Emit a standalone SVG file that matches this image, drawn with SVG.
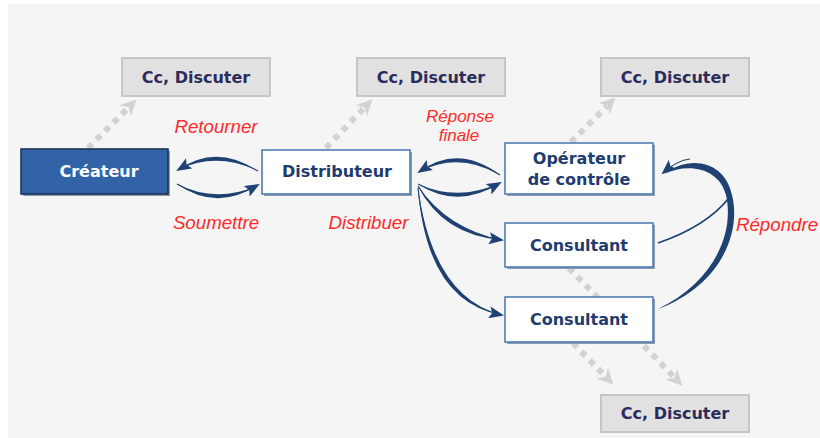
<svg xmlns="http://www.w3.org/2000/svg" width="820" height="438" viewBox="0 0 820 438">
  <style>
    .bg { fill: #f5f5f5; }
    .cc rect.box { fill: #e1e1e1; stroke: #c6c6c6; stroke-width: 2; }
    .cc text { font-family: "DejaVu Sans", Verdana, sans-serif; font-weight: bold; font-size: 16px; fill: #2b2b5c; text-anchor: middle; }
    .node rect.shadow { fill: #8d9bb0; }
    .node rect.box { fill: #ffffff; stroke: #4f7db5; stroke-width: 1.6; }
    .node text { font-family: "DejaVu Sans", Verdana, sans-serif; font-weight: bold; font-size: 16px; fill: #1e3c6e; text-anchor: middle; }
    .dark rect.box { fill: #3163a6; stroke: #1c3557; stroke-width: 1.6; }
    .dark text { fill: #ffffff; }
    .lbl { font-family: "Liberation Sans", Arial, sans-serif; font-style: italic; font-size: 18.7px; fill: #ff2a2a; text-anchor: middle; }
    .lbl.tight { font-size: 17px; }
    .cc-link { fill: none; stroke: #d2d2d2; stroke-width: 6; stroke-dasharray: 6 6; marker-end: url(#grayHead); }
    .swoosh { fill: #1f4273; stroke: none; }
    .spine { fill: none; stroke: #1f4273; stroke-width: 1.2; marker-end: url(#navyHead); }
  </style>
  <defs>
    <marker id="navyHead" markerUnits="userSpaceOnUse" markerWidth="15" markerHeight="12" viewBox="0 0 15 12" refX="13" refY="6" orient="auto">
      <path d="M0,0 L15,6 L0,12 L3,6 Z" fill="#1f4273"/>
    </marker>
    <marker id="grayHead" markerUnits="userSpaceOnUse" markerWidth="16" markerHeight="16" viewBox="0 0 16 16" refX="4" refY="8" orient="auto">
      <path d="M0,0 L16,8 L0,16 L5,8 Z" fill="#d2d2d2"/>
    </marker>
  </defs>

  <rect class="bg" x="8" y="4" width="812" height="434"/>

  <g id="connectors">
    <!-- copies / discussion links (grey, dotted) -->
    <path class="cc-link" d="M88,148 L128,108"/>
    <path class="cc-link" d="M326,148 L364,108"/>
    <path class="cc-link" d="M571,142 L607,106"/>
    <path class="cc-link" d="M569,268 L674,377"/>
    <path class="cc-link" d="M573,343 L605,376"/>

    <!-- Retourner: Distributeur -> Créateur -->
    <path class="swoosh" d="M258,171 Q216,143 178,170 Q216,151 258,171 Z"/>
    <path class="spine" d="M258,171 Q216,147 178,170"/>
    <!-- Soumettre: Créateur -> Distributeur -->
    <path class="swoosh" d="M177,184 Q217,212 258,185 Q217,204 177,184 Z"/>
    <path class="spine" d="M177,184 Q217,208 258,185"/>

    <!-- Réponse finale: Opérateur -> Distributeur -->
    <path class="swoosh" d="M500,175 Q458,143 419,172 Q458,151 500,175 Z"/>
    <path class="spine" d="M500,175 Q458,147 419,172"/>
    <!-- Distribuer: Distributeur -> Opérateur / Consultants -->
    <path class="swoosh" d="M418,184 Q458,210 500,183 Q458,202 418,184 Z"/>
    <path class="spine" d="M418,184 Q458,206 500,183"/>
    <path class="swoosh" d="M418,186 Q442.8,235.4 502,240 Q447.2,228.6 418,186 Z"/>
    <path class="spine" d="M418,186 Q445,232 502,240"/>
    <path class="swoosh" d="M418,188 Q426.7,302.2 502,315 Q433.3,297.8 418,188 Z"/>
    <path class="spine" d="M418,188 Q430,300 502,315"/>

    <!-- Répondre: Consultants -> Opérateur de contrôle -->
    <path class="swoosh" d="M658,309 C718,287 742,235 732,195 C725,161 690,154 664,174 C690,162 719,169 726,195 C735,235 712,283 658,309 Z"/>
    <path class="spine" d="M690,159 C680,160 672,165 663,173"/>
    <path d="M658,243 C690,232 713,218 729,198" fill="none" stroke="#1f4273" stroke-width="1.8"/>
  </g>

  <g id="cc1" class="cc">
    <rect class="box" x="122" y="58" width="148" height="38"/>
    <text x="196" y="83">Cc, Discuter</text>
  </g>
  <g id="cc2" class="cc">
    <rect class="box" x="357" y="58" width="148" height="38"/>
    <text x="431" y="83">Cc, Discuter</text>
  </g>
  <g id="cc3" class="cc">
    <rect class="box" x="601" y="58" width="148" height="38"/>
    <text x="675" y="83">Cc, Discuter</text>
  </g>
  <g id="cc4" class="cc">
    <rect class="box" x="601" y="395" width="148" height="37"/>
    <text x="675" y="419">Cc, Discuter</text>
  </g>

  <g id="createur" class="node dark">
    <rect class="shadow" x="23" y="151" width="147" height="45" fill="#1c3557"/>
    <rect class="box" x="21" y="149" width="147" height="45"/>
    <text x="99" y="177">Créateur</text>
  </g>
  <g id="distributeur" class="node">
    <rect class="shadow" x="264" y="152" width="148" height="44"/>
    <rect class="box" x="262" y="150" width="148" height="44"/>
    <text x="337" y="177">Distributeur</text>
  </g>
  <g id="operateur" class="node">
    <rect class="shadow" x="507" y="145" width="148" height="51"/>
    <rect class="box" x="505" y="143" width="148" height="51"/>
    <text x="579" y="164">Opérateur</text>
    <text x="579" y="185">de contrôle</text>
  </g>
  <g id="consultant1" class="node">
    <rect class="shadow" x="507" y="225" width="148" height="44"/>
    <rect class="box" x="505" y="223" width="148" height="44"/>
    <text x="579" y="250.5">Consultant</text>
  </g>
  <g id="consultant2" class="node">
    <rect class="shadow" x="507" y="299" width="148" height="45"/>
    <rect class="box" x="505" y="297" width="148" height="45"/>
    <text x="579" y="325">Consultant</text>
  </g>

  <g id="labels">
    <text class="lbl" x="216" y="133">Retourner</text>
    <text class="lbl" x="216" y="229">Soumettre</text>
    <text class="lbl" x="368.5" y="229">Distribuer</text>
    <text class="lbl tight" x="460" y="122">Réponse</text>
    <text class="lbl tight" x="459" y="141">finale</text>
    <text class="lbl" x="777" y="231">Répondre</text>
  </g>
</svg>
